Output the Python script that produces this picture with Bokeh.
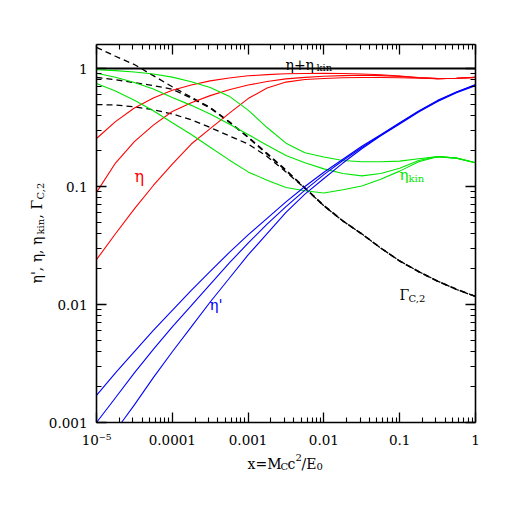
from math import pi
from bokeh.plotting import figure
from bokeh.models import LogAxis, FixedTicker, Label, Range1d
from bokeh.embed import file_html
from bokeh.resources import INLINE

# ---------------- data ----------------
x = [1e-5, 1.78e-5, 3.16e-5, 5.62e-5, 1e-4, 1.78e-4, 3.16e-4, 5.62e-4,
     1e-3, 1.78e-3, 3.16e-3, 5.62e-3, 1e-2, 1.78e-2, 3.16e-2, 5.62e-2,
     0.1, 0.178, 0.316, 0.562, 1.0]
x_c = [2.14e-5, 3.16e-5, 5.62e-5, 1e-4, 1.78e-4, 3.16e-4, 5.62e-4,
       1e-3, 1.78e-3, 3.16e-3, 5.62e-3, 1e-2, 1.78e-2, 3.16e-2, 5.62e-2,
       0.1, 0.178, 0.316, 0.562, 1.0]

# eta' (blue)
eta_p_a = [0.0017, 0.00263, 0.00398, 0.00603, 0.00891, 0.0132, 0.0191, 0.0275,
           0.0389, 0.0537, 0.0741, 0.100, 0.132, 0.170, 0.219, 0.275,
           0.347, 0.437, 0.537, 0.631, 0.731]
eta_p_b = [0.00100, 0.00162, 0.00263, 0.00417, 0.00646, 0.00977, 0.0148, 0.0224,
           0.0331, 0.0479, 0.0676, 0.0933, 0.126, 0.166, 0.214, 0.272,
           0.343, 0.432, 0.531, 0.631, 0.724]
eta_p_c = [0.00100, 0.00141, 0.00240, 0.00398, 0.00646, 0.0105, 0.0166,
           0.0263, 0.0398, 0.0603, 0.0861, 0.117, 0.158, 0.209, 0.269,
           0.339, 0.427, 0.525, 0.624, 0.716]

# eta (red)
eta_1 = [0.255, 0.355, 0.462, 0.562, 0.653, 0.724, 0.785, 0.832,
         0.867, 0.887, 0.902, 0.908, 0.912, 0.906, 0.899, 0.885,
         0.865, 0.838, 0.821, 0.826, 0.841]
eta_2 = [0.0891, 0.158, 0.240, 0.331, 0.432, 0.513, 0.589, 0.661,
         0.724, 0.776, 0.817, 0.841, 0.859, 0.871, 0.877, 0.871,
         0.857, 0.834, 0.821, 0.826, 0.841]
eta_3 = [0.0240, 0.0398, 0.0646, 0.102, 0.155, 0.229, 0.309, 0.417,
         0.556, 0.684, 0.767, 0.807, 0.822, 0.834, 0.838, 0.838,
         0.836, 0.828, 0.821, 0.826, 0.841]

# eta_kin (green)
eta_kin_1 = [0.976, 0.960, 0.935, 0.898, 0.845, 0.771, 0.691, 0.583,
             0.444, 0.316, 0.233, 0.193, 0.178, 0.166, 0.162, 0.162,
             0.164, 0.172, 0.179, 0.174, 0.159]
eta_kin_2 = [0.911, 0.842, 0.760, 0.669, 0.568, 0.487, 0.411, 0.339,
             0.276, 0.224, 0.183, 0.159, 0.141, 0.129, 0.123, 0.129,
             0.143, 0.166, 0.179, 0.174, 0.159]
eta_kin_3 = [0.745, 0.645, 0.538, 0.438, 0.347, 0.276, 0.215, 0.168,
             0.133, 0.113, 0.098, 0.092, 0.088, 0.094, 0.101, 0.115,
             0.135, 0.162, 0.179, 0.174, 0.159]

# Gamma_C,2 (black dashed)
gamma_1 = [1.51, 1.27, 1.08, 0.87, 0.70, 0.572, 0.468, 0.355,
           0.263, 0.191, 0.138, 0.0977, 0.0692, 0.0513, 0.0398, 0.0302,
           0.0234, 0.0191, 0.0158, 0.0135, 0.0117]
gamma_2 = [0.839, 0.804, 0.759, 0.716, 0.668, 0.562, 0.462, 0.351,
           0.260, 0.188, 0.136, 0.0966, 0.0684, 0.0509, 0.0395, 0.0300,
           0.0233, 0.0189, 0.0157, 0.0134, 0.0117]
gamma_3 = [0.495, 0.490, 0.473, 0.447, 0.412, 0.367, 0.316, 0.269,
           0.229, 0.180, 0.133, 0.0966, 0.0687, 0.0510, 0.0397, 0.0301,
           0.0234, 0.0190, 0.0158, 0.0134, 0.0117]

# eta + eta_kin (black solid)
sum_x = [1e-5, 1.0]
sum_y = [1.0, 1.0]

x_major = [1e-5, 1e-4, 1e-3, 1e-2, 1e-1, 1.0]
x_tick_labels = ["10\u207b\u2075", "0.0001", "0.001", "0.01", "0.1", "1"]
y_major = [1e-3, 1e-2, 1e-1, 1.0]
y_tick_labels = ["0.001", "0.01", "0.1", "1"]
x_minor = [k * m for m in [1e-5, 1e-4, 1e-3, 1e-2, 1e-1] for k in range(2, 10)]
y_minor = [k * m for m in [1e-3, 1e-2, 1e-1] for k in range(2, 10)]
X_LO, X_HI = 1e-5, 1.0      # plotted box, x
Y_LO, Y_HI = 1e-3, 1.6      # plotted box, y

RED, GREEN, BLUE = "#ff0000", "#00e600", "#0000ff"
FONT = "DejaVu Serif"

# The frame fills the whole canvas; the box is drawn by four axes with
# fixed locations and bounds, so that the titles (Labels) lie inside the frame.
BOX_L, BOX_B = 96, 422        # pixel position of (X_LO, Y_LO) on the canvas
PX_DEC_X, PX_DEC_Y = 75.8, 118.0
W = H = 500
lx0 = -5 - BOX_L / PX_DEC_X
lx1 = -5 + (W - BOX_L) / PX_DEC_X
ly0 = -3 - (H - BOX_B) / PX_DEC_Y
ly1 = -3 + BOX_B / PX_DEC_Y

p = figure(width=W, height=H, x_axis_type="log", y_axis_type="log",
           x_range=Range1d(10 ** lx0, 10 ** lx1),
           y_range=Range1d(10 ** ly0, 10 ** ly1),
           output_backend="svg", toolbar_location=None, title=None,
           min_border=0)
p.grid.visible = False
p.outline_line_color = None
p.background_fill_color = "white"
p.border_fill_color = "white"


def style_axis(ax, ticks, minor, bounds, loc, labels=None):
    ax.ticker = FixedTicker(ticks=ticks, minor_ticks=minor)
    ax.bounds = bounds
    ax.fixed_location = loc
    ax.major_tick_in = 10
    ax.major_tick_out = 0
    ax.minor_tick_in = 5
    ax.minor_tick_out = 0
    ax.axis_line_width = 1.6
    ax.major_tick_line_width = 1.3
    ax.minor_tick_line_width = 1.1
    ax.axis_line_color = "black"
    ax.major_tick_line_color = "black"
    ax.minor_tick_line_color = "black"
    if labels is None:
        ax.major_label_text_font_size = "0px"
        ax.major_label_text_alpha = 0
    else:
        ax.major_label_overrides = dict(zip(ticks, labels))
        ax.major_label_text_font = FONT
        ax.major_label_text_font_size = "13.5px"
        ax.major_label_text_color = "black"
        ax.major_label_standoff = 9


style_axis(p.xaxis[0], x_major, x_minor, (X_LO, X_HI), Y_LO, x_tick_labels)
style_axis(p.yaxis[0], y_major, y_minor, (Y_LO, Y_HI), X_LO, y_tick_labels)
top = LogAxis()
style_axis(top, x_major, x_minor, (X_LO, X_HI), Y_HI)
right = LogAxis()
style_axis(right, y_major, y_minor, (Y_LO, Y_HI), X_HI)
p.add_layout(top, "above")
p.add_layout(right, "right")

# curves
p.line(sum_x, sum_y, line_color="black", line_width=2)
for g in (gamma_1, gamma_2, gamma_3):
    p.line(x, g, line_color="black", line_width=1.3, line_dash="6 4")
for e in (eta_1, eta_2, eta_3):
    p.line(x, e, line_color=RED, line_width=1.1)
for e in (eta_kin_1, eta_kin_2, eta_kin_3):
    p.line(x, e, line_color=GREEN, line_width=1.1)
p.line(x, eta_p_a, line_color=BLUE, line_width=1.1)
p.line(x, eta_p_b, line_color=BLUE, line_width=1.1)
p.line(x_c, eta_p_c, line_color=BLUE, line_width=1.1)


# text labels, positioned in canvas pixels via offsets from the box corner
def put(text, X, Y, size, color="black", angle=0.0, style="normal"):
    p.add_layout(Label(x=X_LO, y=Y_LO, x_offset=X - BOX_L, y_offset=BOX_B - Y,
                       text=text, text_font=FONT, text_font_size=f"{size}px",
                       text_color=color, text_align="left",
                       text_baseline="alphabetic", angle=angle,
                       text_font_style=style))


# x axis title: x=M_C c^2/E_0
put("x=M", 247, 463, 14)
put("C", 280, 466, 10)
put("c", 287, 463, 14)
put("2", 295, 457, 10)
put("/E", 301, 463, 14)
put("0", 316, 466, 10)

# y axis title: eta', eta, eta_kin, Gamma_C,2 (rotated)
put("\u03b7', \u03b7, \u03b7", 36, 283, 14, angle=pi / 2)
put("kin", 40, 234, 10, angle=pi / 2)
put(", \u0393", 36, 218, 14, angle=pi / 2)
put("C,2", 40, 199, 10, angle=pi / 2)

# in-plot labels
put("\u03b7", 134, 176, 16, RED)
put("\u03b7'", 209, 304, 15, BLUE)
put("\u03b7", 399, 174, 15, GREEN)
put("kin", 408, 178, 10, GREEN)
put("\u0393", 399, 294, 14)
put("C,2", 408, 298, 10)
put("\u03b7+\u03b7", 285, 64, 14)
put("kin", 316, 67, 10)

open("out.html", "w").write(file_html(p, INLINE))
